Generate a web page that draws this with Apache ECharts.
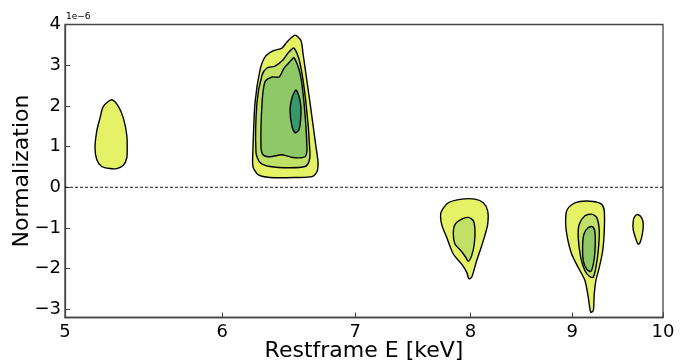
<!DOCTYPE html>
<html><head><meta charset="utf-8">
<script src="https://cdn.jsdelivr.net/npm/echarts@6/dist/echarts.min.js"></script>
<style>html,body{margin:0;padding:0;background:#fff}#c{width:680px;height:362px}</style>
</head><body><div id="c"></div>
<script>
// Tick values
const xTicks = [5, 6, 7, 8, 9, 10];
const yTicks = [-3, -2, -1, 0, 1, 2, 3, 4];
// contour fill colours, outer -> inner
const levelColors = ['#e5f266', '#c0e066', '#8fc866', '#36996a'];

// contour outlines: [Restframe E (keV), Normalization (x1e-6)]
const blob53_l0 = [[5.278,2.15],[5.319,1.99],[5.350,1.70],[5.371,1.29],[5.374,0.97],[5.371,0.72],[5.350,0.54],[5.309,0.46],[5.268,0.46],[5.217,0.51],[5.187,0.68],[5.177,0.97],[5.187,1.37],[5.207,1.70],[5.227,1.99]];

const blob65_l0 = [[6.528,3.74],[6.573,3.60],[6.588,3.30],[6.642,2.08],[6.688,1.00],[6.704,0.61],[6.696,0.38],[6.657,0.26],[6.543,0.24],[6.341,0.24],[6.254,0.31],[6.217,0.51],[6.217,0.92],[6.232,2.08],[6.268,2.88],[6.304,3.20],[6.363,3.35],[6.430,3.42],[6.467,3.57]];
const blob65_l1 = [[6.520,3.42],[6.565,3.06],[6.611,2.08],[6.642,0.85],[6.634,0.63],[6.604,0.51],[6.490,0.48],[6.341,0.51],[6.268,0.61],[6.239,0.85],[6.246,2.08],[6.283,2.76],[6.319,2.93],[6.378,2.98],[6.437,3.13],[6.475,3.30]];
const blob65_l2 = [[6.520,3.18],[6.565,2.81],[6.596,2.08],[6.619,0.92],[6.604,0.75],[6.512,0.73],[6.430,0.80],[6.341,0.75],[6.290,0.80],[6.275,1.00],[6.283,2.08],[6.304,2.59],[6.356,2.71],[6.408,2.71],[6.445,2.93],[6.482,3.06]];
const blob65_l3 = [[6.535,2.39],[6.565,2.15],[6.573,1.83],[6.558,1.41],[6.528,1.34],[6.505,1.49],[6.490,1.90],[6.505,2.20]];

const blob80_l0 = [[7.797,-0.38],[7.919,-0.29],[8.042,-0.29],[8.120,-0.38],[8.161,-0.58],[8.161,-0.91],[8.129,-1.23],[8.089,-1.56],[8.058,-1.80],[8.035,-2.01],[8.011,-2.21],[7.986,-2.25],[7.965,-2.09],[7.919,-1.89],[7.842,-1.64],[7.782,-1.23],[7.737,-0.91],[7.731,-0.62]];
const blob80_l1 = [[7.919,-0.78],[7.980,-0.74],[8.026,-0.82],[8.042,-1.07],[8.035,-1.40],[8.011,-1.68],[7.980,-1.82],[7.956,-1.72],[7.912,-1.56],[7.858,-1.40],[7.842,-1.15],[7.858,-0.91]];

const blob91_l0 = [[8.943,-0.58],[8.995,-0.43],[9.082,-0.35],[9.224,-0.35],[9.314,-0.42],[9.342,-0.58],[9.342,-1.07],[9.325,-1.56],[9.288,-1.97],[9.252,-2.29],[9.234,-2.62],[9.224,-3.03],[9.196,-3.07],[9.170,-2.70],[9.135,-2.29],[9.064,-1.97],[8.995,-1.64],[8.950,-1.23],[8.933,-0.91]];
const blob91_l1 = [[9.135,-0.70],[9.206,-0.66],[9.260,-0.74],[9.288,-1.07],[9.277,-1.56],[9.252,-1.97],[9.224,-2.21],[9.188,-2.20],[9.135,-2.05],[9.090,-1.72],[9.064,-1.23],[9.075,-0.91]];
const blob91_l2 = [[9.170,-0.99],[9.217,-0.97],[9.242,-1.11],[9.242,-1.56],[9.224,-1.89],[9.196,-2.07],[9.153,-2.01],[9.117,-1.80],[9.111,-1.40],[9.125,-1.15]];

const blob97_l0 = [[9.711,-0.67],[9.756,-0.75],[9.774,-0.91],[9.763,-1.16],[9.737,-1.36],[9.717,-1.40],[9.692,-1.28],[9.661,-1.04],[9.661,-0.83],[9.680,-0.71]];

const contours = [
  { level: 0, pts: blob53_l0 },
  { level: 0, pts: blob65_l0 }, { level: 1, pts: blob65_l1 }, { level: 2, pts: blob65_l2 }, { level: 3, pts: blob65_l3 },
  { level: 0, pts: blob80_l0 }, { level: 1, pts: blob80_l1 },
  { level: 0, pts: blob91_l0 }, { level: 1, pts: blob91_l1 }, { level: 2, pts: blob91_l2 },
  { level: 0, pts: blob97_l0 }
];
const zeroLine = [[5, 0], [10, 0]];

const chart = echarts.init(document.getElementById('c'), null, { renderer: 'canvas' });
const font = 'DejaVu Sans';
const minus = v => (v < 0 ? '\u2212' + Math.abs(v) : String(v));
chart.setOption({
  animation: false,
  backgroundColor: '#fff',
  grid: { left: 65, right: 17, top: 24.5, bottom: 44.5, containLabel: false, outerBoundsMode: 'none', show: true, borderColor: '#444', borderWidth: 1.3, backgroundColor: 'transparent' },
  xAxis: {
    type: 'log', logBase: 10, min: 5, max: 10,
    name: 'Restframe E [keV]', nameLocation: 'middle', nameGap: 23, nameMoveOverlap: false,
    nameTextStyle: { fontFamily: font, fontSize: 22, color: '#000' },
    axisLine: { show: true, onZero: false, lineStyle: { color: '#444', width: 1.3 } },
    axisTick: { show: true, inside: true, length: 5, lineStyle: { color: '#444' }, customValues: xTicks },
    axisLabel: { fontFamily: font, fontSize: 18, color: '#000', margin: 6, customValues: xTicks, formatter: v => String(Math.round(v)) },
    splitLine: { show: false }, minorTick: { show: false }, minorSplitLine: { show: false }
  },
  yAxis: {
    type: 'value', min: -3.2, max: 4,
    name: 'Normalization', nameLocation: 'middle', nameGap: 32, nameRotate: 90, nameMoveOverlap: false,
    nameTextStyle: { fontFamily: font, fontSize: 22, color: '#000' },
    axisLine: { show: true, onZero: false, lineStyle: { color: '#444', width: 1.3 } },
    axisTick: { show: true, inside: true, length: 5, lineStyle: { color: '#444' }, customValues: yTicks },
    axisLabel: { fontFamily: font, fontSize: 18, color: '#000', margin: 4, customValues: yTicks, formatter: minus },
    splitLine: { show: false }
  },
  graphic: [{ type: 'text', left: 66, top: 12, style: { text: '1e\u22126', font: '9px DejaVu Sans', fill: '#000' } }],
  series: [
    {
      type: 'custom', coordinateSystem: 'cartesian2d', silent: true, clip: true,
      data: contours.map((c, i) => [c.pts[0][0], c.pts[0][1], i]),
      encode: { x: 0, y: 1 },
      renderItem: function (params, api) {
        const c = contours[api.value(2)];
        const points = c.pts.map(p => api.coord(p));
        return { type: 'polygon', shape: { points: points, smooth: 0.25 }, style: { fill: levelColors[c.level], stroke: '#000', lineWidth: 1.4 } };
      }
    },
    {
      type: 'line', data: zeroLine, symbol: 'none', silent: true,
      lineStyle: { color: '#000', width: 0.9, type: [3, 2] }
    }
  ]
});
</script></body></html>
